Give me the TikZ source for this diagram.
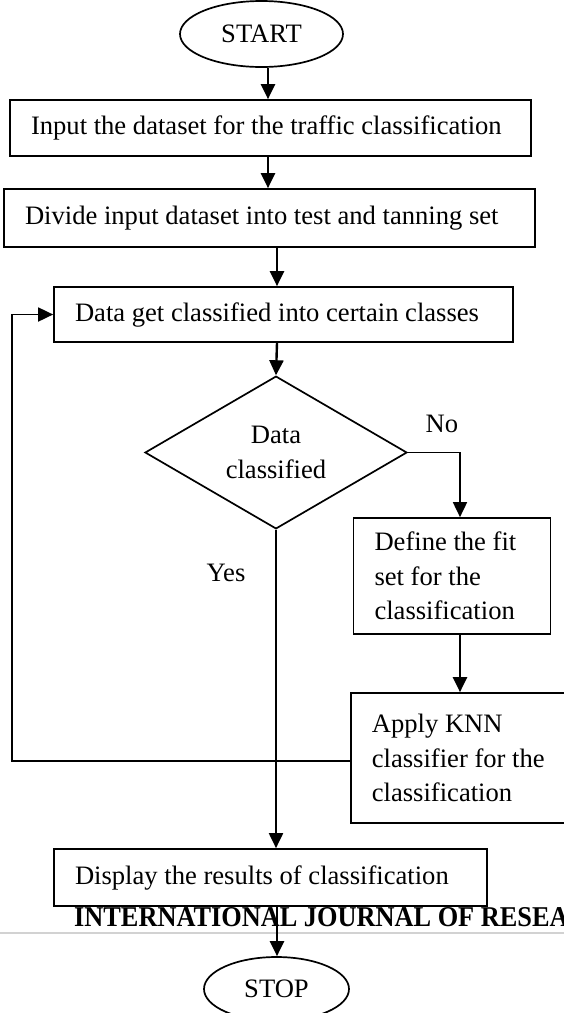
\documentclass[tikz,border=0pt]{standalone}
\usepackage{fontspec}
\setmainfont{Liberation Serif}
\newfontfamily\hdrfont[FakeStretch=0.917]{Liberation Serif}
\usetikzlibrary{shapes.geometric,arrows.meta}

\begin{document}
\begin{tikzpicture}[x=1pt,y=-1pt,
  every node/.style={font=\fontsize{26.6}{34.6}\selectfont},
  box/.style={draw,line width=1.7pt,fill=white,inner xsep=21pt,inner ysep=0pt,align=flush left},
  term/.style={draw,ellipse,line width=1.7pt,fill=white,inner sep=0pt},
  decision/.style={draw,diamond,line width=1.7pt,inner sep=0pt,align=flush center},
  arr/.style={line width=2.4pt,-{Triangle[length=15pt,width=14pt]}}]
\useasboundingbox (0,0) rectangle (564,1013);
\clip (0,0) rectangle (564,1013);

\node[term,minimum width=163pt,minimum height=66pt] (start) at (261.5,34) {START};
\node[box,text width=479pt,minimum height=56pt] (in1) at (270.5,128) {Input the dataset for the traffic classification};
\node[box,text width=489pt,minimum height=58pt] (div) at (269.5,218) {Divide input dataset into test and tanning set};
\node[box,text width=417pt,minimum height=55pt] (cls) at (283.5,314.5) {Data get classified into certain classes};
\node[decision,minimum width=262pt,minimum height=139pt] (dec) at (276,452.5) {Data\\classified};
\node[box,text width=155pt,minimum height=116pt] (fit) at (452,576) {Define the fit\\set for the\\classification};
\node[box,text width=198pt,minimum height=130pt,anchor=west] (knn) at (350,758) {Apply KNN\\classifier for the\\classification};
\node[box,text width=391pt,minimum height=57pt] (res) at (270.5,877.5) {Display the results of classification};
\node[term,minimum width=145pt,minimum height=64pt] (stop) at (276.5,989) {STOP};

\node (no) at (442,424) {No};
\node (yes) at (226,573) {Yes};

% running header and rule under the last box
\node[anchor=base west,inner sep=0pt,font=\hdrfont\bfseries\fontsize{28.7}{30}\selectfont] (hdr) at (74,926) {INTERNATIONAL JOURNAL OF RESEA};
\draw[gray!35,line width=2pt] (0,933) -- (564,933);

\coordinate (upper) at (268,0);
\coordinate (axis) at (277,0);
\coordinate (nobend) at (460,452.5);
\coordinate (back) at (12,761);

\draw[arr] (start.south -| upper) -- (in1.north -| upper);
\draw[arr] (in1.south -| upper) -- (div.north -| upper);
\draw[arr] (div.south -| axis) -- (cls.north -| axis);
\draw[arr] (cls.south -| axis) -- (dec.north);
\draw[arr,line width=1.8pt] (dec.east) -- (nobend) -- (fit.north -| nobend);
\draw[arr] (fit.south -| nobend) -- (knn.north -| nobend);
\draw[arr,line width=1.8pt] (knn.west |- back) -- (back) |- (cls.west);
\draw[arr,line width=2pt] (dec.south) -- (dec.south |- res.north);
\draw[arr] (res.south -| axis) -- (stop.north -| axis);
\end{tikzpicture}
\end{document}
